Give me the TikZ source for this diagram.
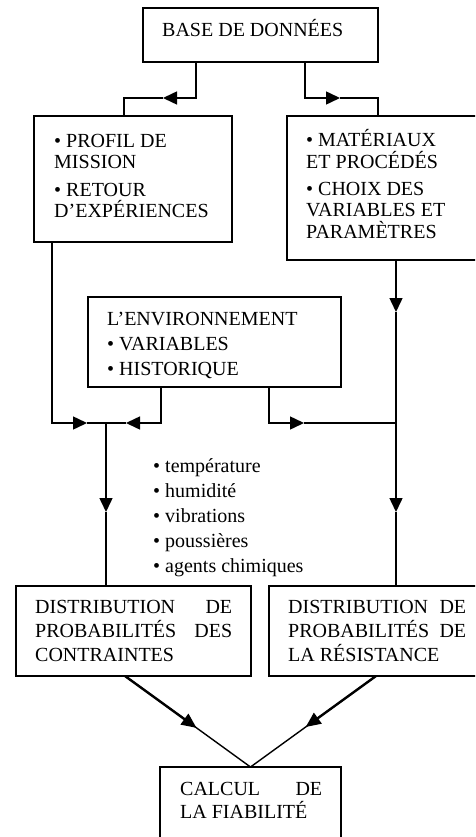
\documentclass[tikz,border=0pt]{standalone}
\usepackage{fontspec}
\setmainfont{Liberation Serif}
\usetikzlibrary{arrows.meta,calc}
\begin{document}
\begin{tikzpicture}[x=1pt,y=-1pt,
  box/.style={draw, line width=1.6pt, anchor=north west, inner sep=0pt, outer sep=0pt},
  txt/.style={anchor=base west, inner sep=0pt, font=\fontsize{20}{21}\selectfont},
  conn/.style={line width=1.5pt},
  arr/.style={conn, -{Triangle[length=14pt,width=13pt]}},
  vthin/.style={line width=1.4pt},
  varr/.style={line width=2.4pt, -{Triangle[length=15pt,width=13pt]}}]
\clip (0,0) rectangle (475,837);
\fill[white] (0,0) rectangle (475,837);
% boxes
\node[box, minimum width=235pt, minimum height=54pt] (base) at (143,8) {};
\node[txt] (baseT) at (162,37) {BASE DE DONNÉES};
\node[box, minimum width=198pt, minimum height=126pt] (prof) at (34,116) {};
\node[txt] (profT) at (54,148) {\parbox[t]{170pt}{• PROFIL DE\\MISSION\\[7pt]• RETOUR\\D’EXPÉRIENCES}};
\node[box, minimum width=210pt, minimum height=144pt] (mat) at (287,116) {};
\node[txt] (matT) at (306,147) {\parbox[t]{165pt}{• MATÉRIAUX\\ET PROCÉDÉS\\[7pt]• CHOIX DES\\VARIABLES ET\\PARAMÈTRES}};
\node[box, minimum width=253pt, minimum height=90pt] (env) at (88,297) {};
\node[txt, font=\fontsize{20}{25}\selectfont] (envT) at (107,325) {\parbox[t]{220pt}{L’ENVIRONNEMENT\\• VARIABLES\\• HISTORIQUE}};
\node[txt, font=\fontsize{20}{25}\selectfont] (list) at (153,472) {\parbox[t]{200pt}{• température\\• humidité\\• vibrations\\• poussières\\• agents chimiques}};
\node[box, minimum width=235pt, minimum height=90pt] (dl) at (16,586) {};
\node[txt, font=\fontsize{20}{24}\selectfont] (dlT) at (35,613) {\parbox[t]{197pt}{DISTRIBUTION\hfill DE\\PROBABILITÉS\hfill DES\\CONTRAINTES}};
\node[box, minimum width=220pt, minimum height=90pt] (dr) at (269,586) {};
\node[txt, font=\fontsize{20}{24}\selectfont] (drT) at (288,613) {\parbox[t]{178pt}{DISTRIBUTION\hfill DE\\PROBABILITÉS\hfill DE\\LA RÉSISTANCE}};
\node[box, minimum width=181pt, minimum height=100pt] (calc) at (160,767) {};
\node[txt, font=\fontsize{20}{23}\selectfont] (calcT) at (180,795) {\parbox[t]{142pt}{CALCUL\hfill DE\\LA FIABILITÉ}};
% top connectors
\coordinate (c1) at (196,98); \coordinate (t1) at (163,98); \coordinate (c2) at (124,98);
\draw[arr] (base.south -| c1) -- (c1) -- (t1);
\draw[conn] (t1) -- (c2) -- (prof.north -| c2);
\coordinate (c3) at (305,98); \coordinate (t2) at (340,98); \coordinate (c4) at (378,98);
\draw[arr] (base.south -| c3) -- (c3) -- (t2);
\draw[conn] (t2) -- (c4) -- (mat.north -| c4);
% left side
\coordinate (c5) at (52,423); \coordinate (t3) at (87,423); \coordinate (j1) at (106,423);
\draw[arr] (prof.south -| c5) -- (c5) -- (t3);
\draw[conn] (t3) -- (j1);
\coordinate (c6) at (161,423); \coordinate (t4) at (126,423);
\draw[arr] (env.south -| c6) -- (c6) -- (t4);
\draw[conn] (t4) -- (j1);
\coordinate (t5) at (106,512);
\draw[arr] (j1) -- (t5);
\draw[conn] (t5) -- (dl.north -| t5);
% right side
\coordinate (c7) at (269,423); \coordinate (t6) at (304,423); \coordinate (j2) at (396,423);
\draw[arr] (env.south -| c7) -- (c7) -- (t6);
\draw[conn] (t6) -- (j2);
\coordinate (t7) at (396,312); \coordinate (t8) at (396,512);
\draw[arr] (mat.south -| t7) -- (t7);
\draw[arr] (t7) -- (t8);
\draw[conn] (t8) -- (dr.north -| t8);
% converging arrows
\coordinate (s1) at ($(dl.south west)+(109,0)$);
\coordinate (s2) at ($(dr.south west)+(107,0)$);
\coordinate (m1) at ($(s1)!0.57!(calc.north)$);
\coordinate (m2) at ($(s2)!0.56!(calc.north)$);
\draw[vthin] (s1) -- (calc.north);
\draw[vthin] (s2) -- (calc.north);
\draw[varr] (s1) -- (m1);
\draw[varr] (s2) -- (m2);
\end{tikzpicture}
\end{document}
